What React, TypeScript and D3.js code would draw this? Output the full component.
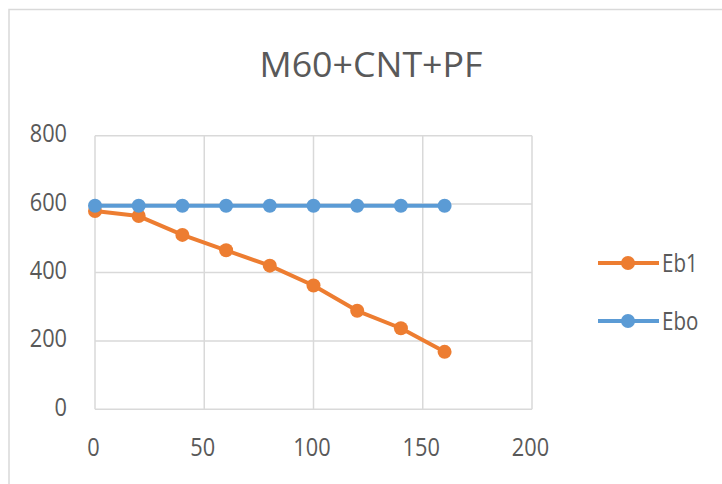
import React from "react";
import * as d3 from "d3";

const xValues = [0, 20, 40, 60, 80, 100, 120, 140, 160];
const eb1Values = [580, 565, 510, 465, 420, 362, 288, 237, 168];
const eboValues = [595, 595, 595, 595, 595, 595, 595, 595, 595];
const xTicks = [0, 50, 100, 150, 200];
const yTicks = [0, 200, 400, 600, 800];
const seriesNames = ["Eb1", "Ebo"];
const title = "M60+CNT+PF";

const W = 722;
const H = 484;
const FONT = "'Open Sans', sans-serif";
const TEXT = "#595959";
const GRID = "#d9d9d9";
const COLORS = ["#ED7D31", "#5B9BD5"];

function Label(props: { x: number; y: number; anchor?: string; children: any; size?: number; sx?: number }) {
  const { x, y, anchor = "start", children, size = 25, sx = 0.87 } = props;
  return (
    <text
      transform={`translate(${x},${y}) scale(${sx},1)`}
      textAnchor={anchor as any}
      fontFamily={FONT}
      fontSize={size}
      fill={TEXT}
    >
      {children}
    </text>
  );
}

export default function App() {
  const x = d3.scaleLinear().domain([0, 200]).range([95, 532]);
  const y = d3.scaleLinear().domain([0, 800]).range([409.3, 135.7]);
  const line = d3
    .line<number>()
    .x((_, i) => x(xValues[i]))
    .y((d) => y(d));
  const series = [eb1Values, eboValues];

  return (
    <svg
      width={W}
      height={H}
      style={{ position: "absolute", left: 0, top: 0, background: "#fff" }}
    >
      <rect x={0} y={0} width={W} height={H} fill="#fff" />
      <rect x={9} y={9.5} width={900} height={700} fill="#fff" stroke={GRID} strokeWidth={1.5} />
      <text
        x={371}
        y={76.5}
        textAnchor="middle"
        fontFamily={FONT}
        fontSize={35}
        fill={TEXT}
        textLength={223}
        lengthAdjust="spacingAndGlyphs"
      >
        {title}
      </text>
      {xTicks.map((t) => (
        <line key={"gx" + t} x1={x(t)} x2={x(t)} y1={y(800)} y2={y(0)} stroke={GRID} strokeWidth={1.5} />
      ))}
      {yTicks.map((t) => (
        <line key={"gy" + t} x1={x(0)} x2={x(200)} y1={y(t)} y2={y(t)} stroke={GRID} strokeWidth={1.5} />
      ))}
      {yTicks.map((t) => (
        <Label key={"ly" + t} x={67} y={y(t) + 6.5} anchor="end">
          {t}
        </Label>
      ))}
      {xTicks.map((t) => (
        <Label key={"lx" + t} x={x(t) - 1.5} y={456} anchor="middle">
          {t}
        </Label>
      ))}
      {series.map((vals, si) => (
        <g key={"s" + si}>
          <path d={line(vals) || ""} fill="none" stroke={COLORS[si]} strokeWidth={4} strokeLinejoin="round" />
          {vals.map((v, i) => (
            <circle key={i} cx={x(xValues[i])} cy={y(v)} r={7} fill={COLORS[si]} />
          ))}
        </g>
      ))}
      {seriesNames.map((name, si) => {
        const ly = 263 + si * 58;
        return (
          <g key={"lg" + si}>
            <line x1={598} x2={659} y1={ly} y2={ly} stroke={COLORS[si]} strokeWidth={4} />
            <circle cx={628} cy={ly} r={7} fill={COLORS[si]} />
            <Label x={662} y={ly + 8.5} sx={0.82}>
              {name}
            </Label>
          </g>
        );
      })}
    </svg>
  );
}
